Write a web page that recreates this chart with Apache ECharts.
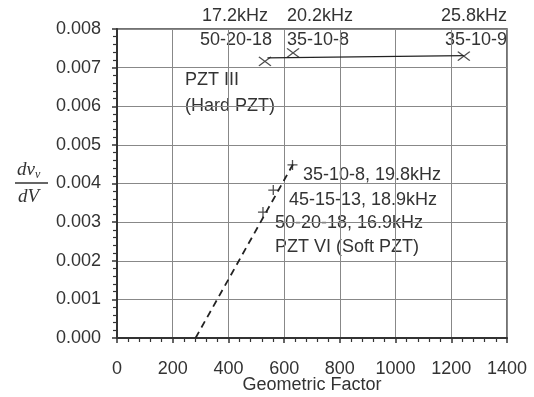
<!DOCTYPE html>
<html><head><meta charset="utf-8">
<script src="https://cdn.jsdelivr.net/npm/echarts@6/dist/echarts.min.js"></script>
<style>html,body{margin:0;padding:0;background:#fff}#c{width:534px;height:397px}</style>
</head><body><div id="c"></div>
<script>
// Data
const hardX = [531, 632, 1245];
const hardY = [0.00716, 0.00738, 0.0073];
const hardFitX = [540, 1245];
const hardFitY = [0.00725, 0.00731];
const softX = [524, 561, 630];
const softY = [0.00326, 0.00383, 0.00448];
const softFitX = [282, 632];
const softFitY = [0.0, 0.0045];
const xTicks = [0, 200, 400, 600, 800, 1000, 1200, 1400];
const yTicks = [0.000, 0.001, 0.002, 0.003, 0.004, 0.005, 0.006, 0.007, 0.008];

const chart = echarts.init(document.getElementById('c'));
const font = '"Liberation Sans", Arial, sans-serif';
const F = '18px ' + font;
const txtColor = '#333';
const toPairs = (xs, ys) => xs.map((x, i) => [x, ys[i]]);
const label = (text, x, y, align) => ({ type: 'text', x: x, y: y,
  style: { text: text, font: F, fill: txtColor, align: align || 'left', verticalAlign: 'middle' } });

chart.setOption({
  backgroundColor: '#fff',
  animation: false,
  grid: { left: 117, right: 27, top: 29, bottom: 59, containLabel: false, outerBoundsMode: 'none',
    show: true, borderColor: '#444', borderWidth: 1.5 },
  xAxis: {
    type: 'value', min: 0, max: 1400, interval: 200,
    name: 'Geometric Factor', nameLocation: 'middle', nameGap: 38, nameMoveOverlap: false,
    nameTextStyle: { fontFamily: font, fontSize: 18, color: txtColor },
    axisLine: { show: true, onZero: false, lineStyle: { color: '#333', width: 2 } },
    axisTick: { show: true, inside: false, length: 5, lineStyle: { color: '#333', width: 1.5 } },
    minorTick: { show: true, splitNumber: 5, length: 4, lineStyle: { color: '#333', width: 1.2 } },
    splitLine: { show: true, lineStyle: { color: '#888', width: 1 } },
    axisLabel: { fontFamily: font, fontSize: 18, color: txtColor, margin: 22,
      formatter: v => xTicks.includes(v) ? String(v) : '' }
  },
  yAxis: {
    type: 'value', min: 0, max: 0.008, interval: 0.001,
    axisLine: { show: true, onZero: false, lineStyle: { color: '#333', width: 2 } },
    axisTick: { show: true, inside: false, length: 5, lineStyle: { color: '#333', width: 1.5 } },
    minorTick: { show: true, splitNumber: 5, length: 4, lineStyle: { color: '#333', width: 1.2 } },
    splitLine: { show: true, lineStyle: { color: '#888', width: 1 } },
    axisLabel: { fontFamily: font, fontSize: 18, color: txtColor, margin: 16,
      formatter: v => { const t = yTicks.find(t => Math.abs(t - v) < 1e-9); return t === undefined ? '' : t.toFixed(3); } }
  },
  series: [
    { type: 'line', data: toPairs(hardFitX, hardFitY), symbol: 'none',
      lineStyle: { color: '#222', width: 1.2 } },
    { type: 'scatter', data: toPairs(hardX, hardY), symbol: 'path://M0,0L10,10M10,0L0,10', symbolSize: [12, 9],
      itemStyle: { color: 'none', borderColor: '#222', borderWidth: 1.3 } },
    { type: 'line', data: toPairs(softFitX, softFitY), symbol: 'none',
      lineStyle: { color: '#222', width: 1.8, type: [7, 5] } },
    { type: 'scatter', data: toPairs(softX, softY), symbol: 'path://M0,5L10,5M5,0L5,10', symbolSize: [10, 10],
      itemStyle: { color: 'none', borderColor: '#222', borderWidth: 1.3 } }
  ],
  graphic: [
    label('17.2kHz', 202, 16),
    label('50-20-18', 200, 40),
    label('20.2kHz', 287, 16),
    label('35-10-8', 287, 40),
    label('25.8kHz', 507, 16, 'right'),
    label('35-10-9', 507, 40, 'right'),
    label('PZT III', 185, 80),
    label('(Hard PZT)', 185, 106),
    label('35-10-8, 19.8kHz', 303, 175),
    label('45-15-13, 18.9kHz', 289, 200),
    label('50-20-18, 16.9kHz', 275, 223),
    label('PZT VI (Soft PZT)', 275, 247),
    // y-axis label as fraction
    { type: 'text', x: 17, y: 170, style: { text: '{a|dv}{s|v}', verticalAlign: 'middle', rich: {
        a: { font: 'italic 19px "Liberation Serif", serif', fill: '#333' },
        s: { font: 'italic 12px "Liberation Serif", serif', fill: '#333', padding: [9, 0, 0, 0] } } } },
    { type: 'line', shape: { x1: 15, y1: 183, x2: 48, y2: 183 }, style: { stroke: '#333', lineWidth: 1.3 } },
    { type: 'text', x: 18, y: 197, style: { text: 'dV', verticalAlign: 'middle', font: 'italic 19px "Liberation Serif", serif', fill: '#333' } }
  ]
});
</script></body></html>
